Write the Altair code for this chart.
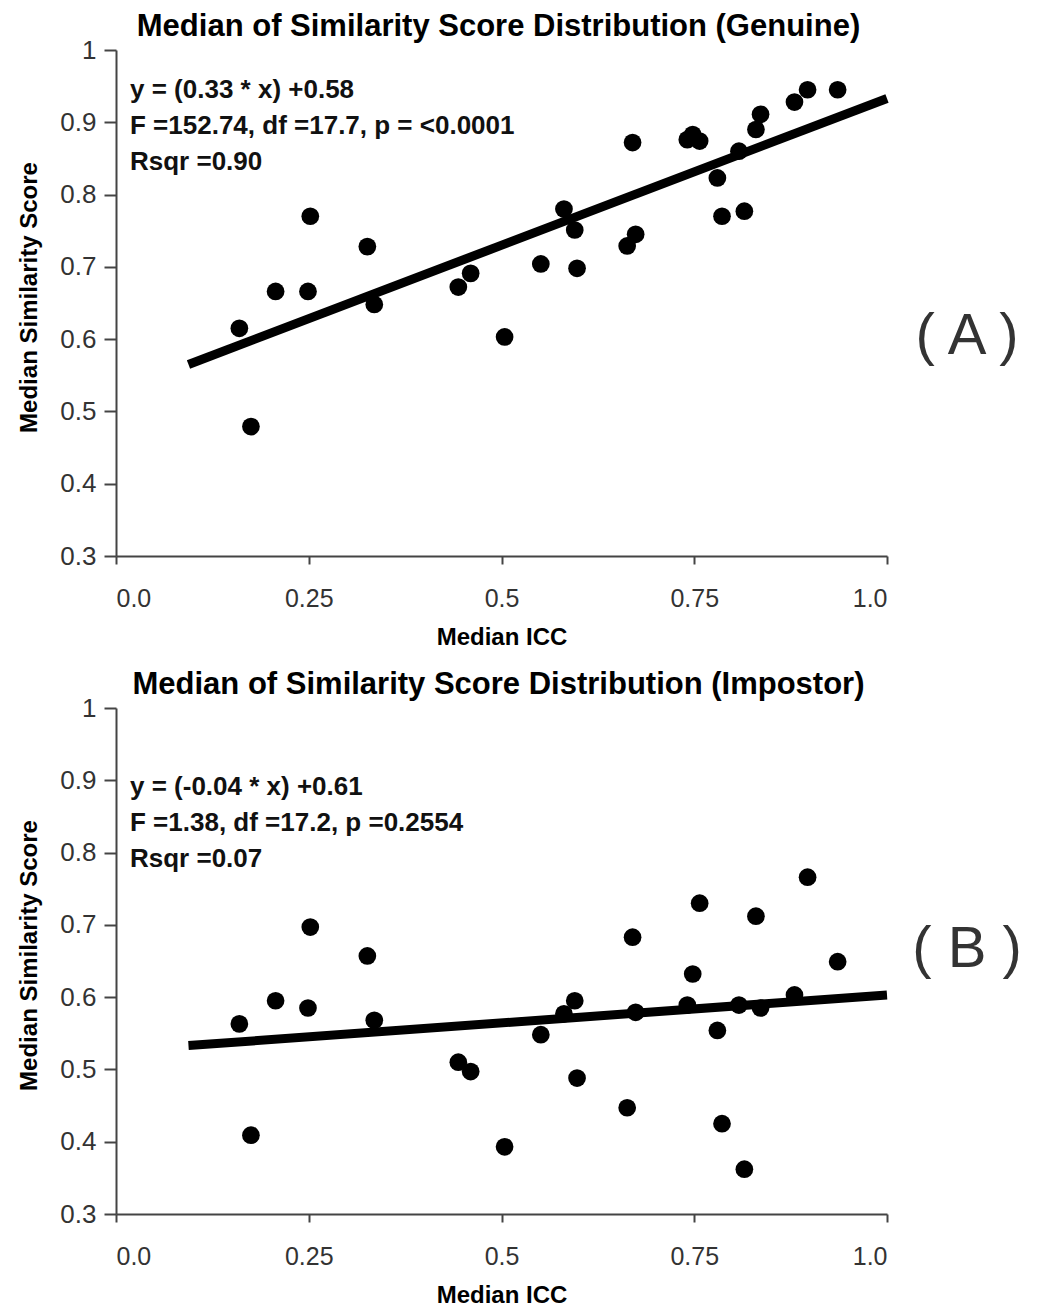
import altair as alt
import pandas as pd

# ---- data ----
icc = [0.160, 0.175, 0.207, 0.249, 0.252, 0.326, 0.335, 0.444, 0.460, 0.504,
       0.551, 0.581, 0.595, 0.598, 0.663, 0.670, 0.674, 0.741, 0.748, 0.757,
       0.780, 0.786, 0.808, 0.815, 0.830, 0.836, 0.880, 0.897, 0.936]
genuine = [0.615, 0.479, 0.666, 0.666, 0.770, 0.728, 0.648, 0.672, 0.691, 0.603,
           0.704, 0.780, 0.751, 0.698, 0.729, 0.872, 0.745, 0.876, 0.883, 0.874,
           0.823, 0.770, 0.860, 0.777, 0.890, 0.911, 0.928, 0.945, 0.945]
impostor = [0.563, 0.409, 0.595, 0.585, 0.697, 0.657, 0.568, 0.510, 0.497, 0.393,
            0.548, 0.577, 0.595, 0.488, 0.447, 0.683, 0.579, 0.589, 0.632, 0.730,
            0.554, 0.425, 0.589, 0.362, 0.712, 0.585, 0.603, 0.766, 0.649]

fit_x = [0.094, 1.0]
fit_genuine = [0.565, 0.933]
fit_impostor = [0.533, 0.603]

titles = ["Median of Similarity Score Distribution (Genuine)",
          "Median of Similarity Score Distribution (Impostor)"]
stats_genuine = ["y = (0.33 * x) +0.58", "F =152.74, df =17.7, p = <0.0001", "Rsqr =0.90"]
stats_impostor = ["y = (-0.04 * x) +0.61", "F =1.38, df =17.2, p =0.2554", "Rsqr =0.07"]
panel_labels = ["( A )", "( B )"]

x_ticks = [0.0, 0.25, 0.5, 0.75, 1.0]
x_tick_labels = ["0.0", "0.25", "0.5", "0.75", "1.0"]
y_ticks = [0.3, 0.4, 0.5, 0.6, 0.7, 0.8, 0.9, 1.0]
y_tick_labels = ["0.3", "0.4", "0.5", "0.6", "0.7", "0.8", "0.9", "1"]

x_title = "Median ICC"
y_title = "Median Similarity Score"

FONT = "Liberation Sans"
W, H = 771, 506


def label_expr(values, labels):
    expr = "''"
    for v, l in reversed(list(zip(values, labels))):
        expr = f"abs(datum.value - {v}) < 1e-6 ? '{l}' : ({expr})"
    return expr


def panel(title, yvals, fit_y, stats, label, stats_top, label_y):
    pts = pd.DataFrame({"icc": icc, "score": yvals})
    fit = pd.DataFrame({"icc": fit_x, "score": fit_y})

    x_enc = alt.X(
        "icc:Q",
        scale=alt.Scale(domain=[0, 1], nice=False, zero=False),
        axis=alt.Axis(
            values=x_ticks, labelExpr=label_expr(x_ticks, x_tick_labels),
            grid=False, tickSize=8, tickWidth=2, tickColor="#444",
            domainColor="#444", domainWidth=2,
            labelFont=FONT, labelFontSize=25, labelColor="#333", labelPadding=22,
            title=x_title, titleFont=FONT, titleFontSize=24, titleFontWeight="bold",
            titleColor="#000", titleY=81, titleBaseline="middle",
        ),
    )
    y_enc = alt.Y(
        "score:Q",
        scale=alt.Scale(domain=[0.3, 1.0], nice=False, zero=False),
        axis=alt.Axis(
            values=y_ticks, labelExpr=label_expr(y_ticks, y_tick_labels),
            grid=False, tickSize=12, tickWidth=2, tickColor="#444",
            domainColor="#444", domainWidth=2,
            labelFont=FONT, labelFontSize=26, labelColor="#333", labelPadding=8,
            title=y_title, titleFont=FONT, titleFontSize=24, titleFontWeight="bold",
            titleColor="#000", titleX=-87, titleY=H / 2 - 6, titleAngle=270,
            titleAlign="center", titleBaseline="middle",
        ),
    )

    points = alt.Chart(pts).mark_circle(size=314, color="black", opacity=1).encode(
        x=x_enc, y=y_enc)
    line = alt.Chart(fit).mark_line(color="black", strokeWidth=9, strokeCap="butt").encode(
        x="icc:Q", y="score:Q")
    stats_txt = alt.Chart(pd.DataFrame({"t": [stats]})).mark_text(
        align="left", baseline="middle", font=FONT, fontSize=26, fontWeight="bold",
        color="#111", lineHeight=36,
    ).encode(text="t:N", x=alt.value(14), y=alt.value(stats_top))
    lab = alt.Chart(pd.DataFrame({"t": [label]})).mark_text(
        align="center", baseline="middle", font=FONT, fontSize=58, color="#333",
    ).encode(text="t:N", x=alt.value(851), y=alt.value(label_y))
    ttl = alt.Chart(pd.DataFrame({"t": [title]})).mark_text(
        align="center", baseline="alphabetic", font=FONT, fontSize=31,
        fontWeight="bold", color="#000",
    ).encode(text="t:N", x=alt.value(W / 2 - 3), y=alt.value(-14))

    return alt.layer(line, points, stats_txt, lab, ttl).properties(width=W, height=H)


pa = panel(titles[0], genuine, fit_genuine, stats_genuine, panel_labels[0], 40, 287)
pb = panel(titles[1], impostor, fit_impostor, stats_impostor, panel_labels[1], 79, 242)

chart = alt.vconcat(pa, pb, spacing=20).properties(
    padding={"left": 17, "top": 11, "right": 5, "bottom": 5},
    background="white",
).configure_view(stroke=None)

chart.save("out.html", embed_options={"renderer": "svg", "actions": False})
